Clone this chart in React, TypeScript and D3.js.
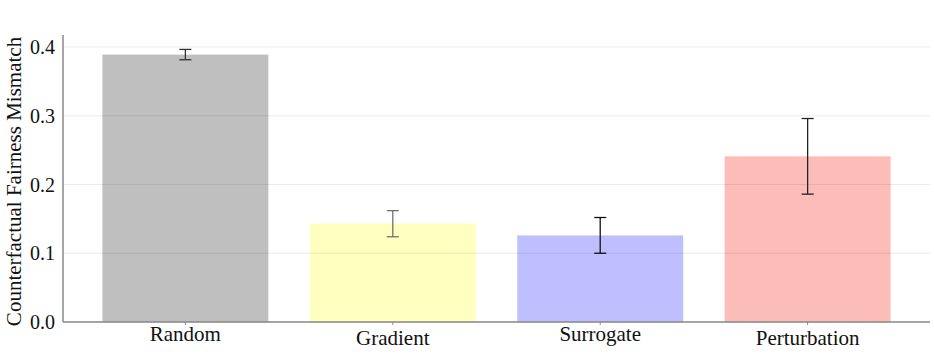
import React from 'react';
import { scaleLinear, scaleBand } from 'd3';

const methods = ['Random', 'Gradient', 'Surrogate', 'Perturbation'];
const means = [0.389, 0.143, 0.126, 0.241];
const errs = [0.0075, 0.019, 0.026, 0.055];
const barColors = ['#bfbfbf', '#ffffbf', '#bfbfff', '#fcbcb8'];
const errColors = ['#333333', '#707070', '#111111', '#222222'];
const yTicks = [0, 0.1, 0.2, 0.3, 0.4];

const W = 934;
const H = 359;
const left = 63;
const right = 930;
const top = 35;
const bottom = 322;
const font = 'Liberation Serif, serif';

const App = () => {
  const yScale = scaleLinear().domain([0, 0.4175]).range([bottom, top]);
  // matplotlib-ish: bars 0.8 wide, 0.19 margin either side
  const xUnit = scaleLinear().domain([-0.59, 3.59]).range([left, right]);
  const band = scaleBand().domain(methods).range([xUnit(-0.5), xUnit(3.5)]).paddingInner(0.2).paddingOuter(0.1);

  const grid = yTicks.map(t => (
    <line key={'g' + t} x1={left} x2={right} y1={yScale(t)} y2={yScale(t)} stroke="#000" strokeOpacity={0.08} strokeWidth={1} />
  ));

  const bars = methods.map((m, i) => (
    <rect key={m} x={band(m)} y={yScale(means[i])} width={band.bandwidth()} height={bottom - yScale(means[i])} fill={barColors[i]} />
  ));

  const errorBars = methods.map((m, i) => {
    const cx = (band(m) as number) + band.bandwidth() / 2;
    const y1 = yScale(means[i] + errs[i]);
    const y2 = yScale(means[i] - errs[i]);
    return (
      <g key={'e' + m} stroke={errColors[i]} strokeWidth={1.3}>
        <line x1={cx} x2={cx} y1={y1} y2={y2} />
        <line x1={cx - 6} x2={cx + 6} y1={y1} y2={y1} />
        <line x1={cx - 6} x2={cx + 6} y1={y2} y2={y2} />
      </g>
    );
  });

  const yLabels = yTicks.map(t => (
    <text key={'y' + t} x={55} y={yScale(t)} dy="0.35em" textAnchor="end" fontFamily={font} fontSize={20} fill="#111">
      {t.toFixed(1)}
    </text>
  ));

  const xLabels = methods.map((m, i) => {
    const cx = (band(m) as number) + band.bandwidth() / 2;
    return (
      <g key={'x' + m}>
        <line x1={cx} x2={cx} y1={bottom} y2={bottom + 3} stroke="#888" strokeWidth={1} />
        <text x={cx} y={i % 2 === 0 ? 341 : 345} textAnchor="middle" fontFamily={font} fontSize={21} fill="#111">
          {m}
        </text>
      </g>
    );
  });

  return (
    <svg width={W} height={H} viewBox={`0 0 ${W} ${H}`} style={{ position: 'absolute', left: 0, top: 0, background: '#fff' }}>
      {bars}
      {grid}
      {errorBars}
      <line x1={left} x2={left} y1={top} y2={bottom} stroke="#888" strokeWidth={1.5} />
      <line x1={left} x2={right} y1={bottom} y2={bottom} stroke="#888" strokeWidth={1.5} />
      {yLabels}
      {xLabels}
      <text transform={`translate(21,${(top + bottom) / 2 + 3}) rotate(-90)`} textAnchor="middle" fontFamily={font} fontSize={21} fill="#111">
        Counterfactual Fairness Mismatch
      </text>
    </svg>
  );
};

export default App;
